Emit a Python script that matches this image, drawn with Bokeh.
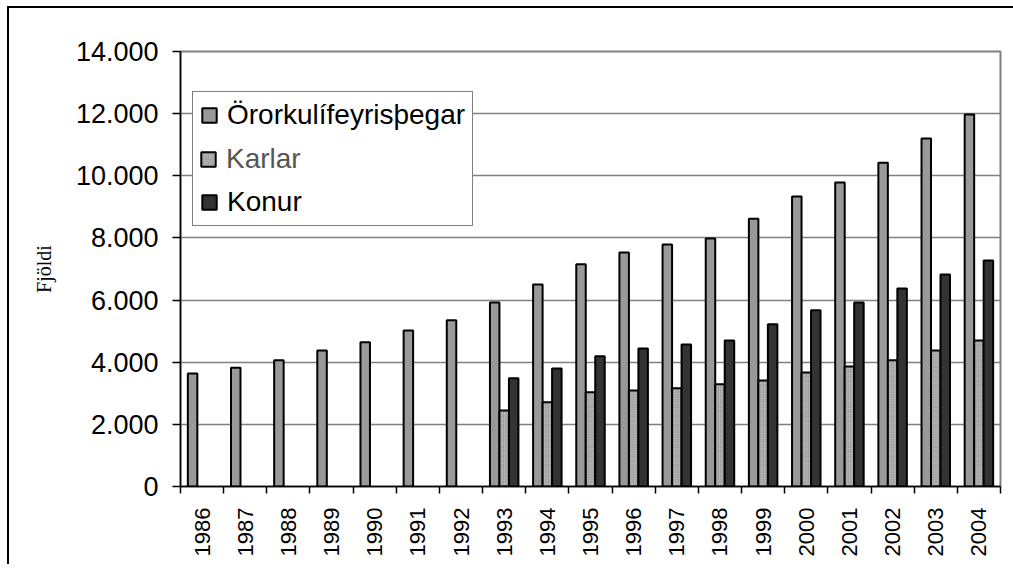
from bokeh.plotting import figure
from bokeh.models import FixedTicker, Legend, LegendItem, ColumnDataSource
from bokeh.embed import file_html
from bokeh.resources import INLINE

years = ["1986", "1987", "1988", "1989", "1990", "1991", "1992", "1993", "1994", "1995",
         "1996", "1997", "1998", "1999", "2000", "2001", "2002", "2003", "2004"]
ororka = [3640, 3820, 4060, 4380, 4640, 5020, 5350, 5920, 6500, 7150,
          7530, 7790, 7980, 8620, 9330, 9780, 10420, 11200, 11970]
karlar = [None, None, None, None, None, None, None, 2450, 2710, 3030,
          3090, 3160, 3290, 3410, 3670, 3860, 4060, 4380, 4700]
konur = [None, None, None, None, None, None, None, 3480, 3800, 4190,
         4440, 4570, 4700, 5220, 5670, 5920, 6370, 6820, 7270]
y_ticks = [0, 2000, 4000, 6000, 8000, 10000, 12000, 14000]
y_labels = ["0", "2.000", "4.000", "6.000", "8.000", "10.000", "12.000", "14.000"]
series_names = ["Örorkulífeyrisþegar", "Karlar", "Konur"]

BW = 0.22
centers = [i + 0.5 for i in range(len(years))]

def src(vals, off):
    xs, ts = [], []
    for c, v in zip(centers, vals):
        if v is not None:
            xs.append(c + off)
            ts.append(v)
    return ColumnDataSource(dict(x=xs, top=ts))

p = figure(output_backend="svg", toolbar_location=None,
           frame_width=820, frame_height=435,
           min_border_left=171, min_border_right=13, min_border_top=43, min_border_bottom=78,
           x_range=(0, len(years)), y_range=(0, 14000),
           background_fill_color="white", border_fill_color="white",
           styles={"border-top": "2px solid black", "border-left": "2px solid black",
                   "margin-top": "6px", "margin-left": "7px"})

r_tot = p.vbar(x="x", top="top", width=BW, source=src(ororka, -BW),
               fill_color="#999999", line_color="black", line_width=2)
r_k = p.vbar(x="x", top="top", width=BW, source=src(karlar, 0),
             fill_color="#b4b4b4", line_color="black", line_width=2,
             hatch_pattern="dot", hatch_color="#7a7a7a", hatch_scale=2.5, hatch_weight=1)
r_w = p.vbar(x="x", top="top", width=BW, source=src(konur, BW),
             fill_color="#333333", line_color="black", line_width=2)
# invisible placeholder for the legend row whose label is drawn by the second legend
r_blank = p.vbar(x="x", top="top", width=BW, source=src(karlar, 0),
                 fill_alpha=0, line_alpha=0)

# axes
p.xaxis.ticker = FixedTicker(ticks=centers, minor_ticks=list(range(len(years) + 1)))
p.xaxis.major_label_overrides = {c: y for c, y in zip(centers, years)}
p.xaxis.major_label_orientation = 1.5708
p.xaxis.major_tick_line_color = None
p.xaxis.minor_tick_line_color = "black"
p.xaxis.minor_tick_line_width = 1.5
p.xaxis.minor_tick_out = 7
p.xaxis.minor_tick_in = 0
p.xaxis.major_label_text_font = "Liberation Sans"
p.xaxis.major_label_text_font_size = "22px"
p.xaxis.major_label_text_color = "black"
p.xaxis.major_label_standoff = 14
p.xaxis.axis_line_color = "black"
p.xaxis.axis_line_width = 1.5

p.yaxis.ticker = FixedTicker(ticks=y_ticks)
p.yaxis.major_label_overrides = {t: l for t, l in zip(y_ticks, y_labels)}
p.yaxis.minor_tick_line_color = None
p.yaxis.major_tick_line_color = "black"
p.yaxis.major_tick_line_width = 1.5
p.yaxis.major_tick_out = 8
p.yaxis.major_tick_in = 0
p.yaxis.major_label_text_font = "Liberation Sans"
p.yaxis.major_label_text_font_size = "27px"
p.yaxis.major_label_text_color = "black"
p.yaxis.major_label_standoff = 14
p.yaxis.axis_line_color = "black"
p.yaxis.axis_line_width = 1.5
p.yaxis.axis_label = "Fjöldi"
p.yaxis.axis_label_text_font = "Liberation Serif"
p.yaxis.axis_label_text_font_style = "normal"
p.yaxis.axis_label_text_font_size = "20px"
p.yaxis.axis_label_text_color = "black"
p.yaxis.axis_label_standoff = 18

p.xgrid.grid_line_color = None
p.ygrid.grid_line_color = "#808080"
p.ygrid.grid_line_width = 1.5
p.outline_line_color = "#808080"
p.outline_line_width = 2

common = dict(glyph_width=18, glyph_height=18, label_height=29, spacing=13,
              padding=7, margin=0, label_standoff=9,
              label_text_font="Liberation Sans", label_text_font_size="28px")

leg = Legend(items=[LegendItem(label=series_names[0], renderers=[r_tot]),
                    LegendItem(label=" ", renderers=[r_blank]),
                    LegendItem(label=series_names[2], renderers=[r_w])],
             location=(12, 260), border_line_color="black", border_line_width=1.5,
             background_fill_color="white", background_fill_alpha=1,
             label_text_color="black", **common)
leg2 = Legend(items=[LegendItem(label=series_names[1], renderers=[r_k])],
              location=(12, 304), border_line_alpha=0, background_fill_alpha=0,
              label_text_color="#555555", **common)
p.add_layout(leg)
p.add_layout(leg2)

open("out.html", "w").write(file_html(p, INLINE))
